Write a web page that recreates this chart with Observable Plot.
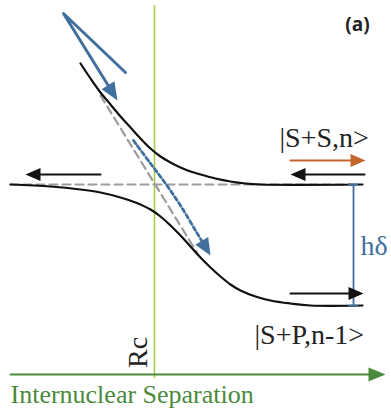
<!DOCTYPE html>
<html><head><meta charset="utf-8">
<script src="https://cdn.jsdelivr.net/npm/d3@7"></script>
<script src="https://cdn.jsdelivr.net/npm/@observablehq/plot@0.6"></script>
<style>body{margin:0;background:#fff}#chart svg{display:block}</style>
</head><body><div id="chart"></div>
<script>
// ---- data (R = internuclear separation, E = energy, arbitrary units) ----
const upperR = [80, 90, 100, 110, 120, 130, 140, 150, 160, 170, 180, 190, 200, 215, 230, 245, 260, 362];
const upperE = [348, 333, 319, 307, 295, 284, 273, 263, 255, 249, 244, 240, 237, 233, 230, 228, 227, 227];
const lowerR = [10, 50, 80, 100, 120, 135, 150, 160, 170, 180, 190, 200, 210, 220, 230, 240, 255, 270, 290, 310, 362];
const lowerE = [227, 225, 222, 219, 214, 209, 202, 195, 186, 176, 165, 154, 144, 135, 127, 121, 115, 111, 108, 106, 106];
const levelSS = 227;            // |S+S,n> asymptote
const levelSP = 106;            // |S+P,n-1> asymptote
const diabSSR = [10, 350];
const diabSPR = [100, 197];
const diabSPE = [316, 158];
const Rc = 154;
const RcE = [34, 406];
const hopR = [133, 150, 165, 180, 195, 210];       // dashed blue transition path
const hopE = [271, 248, 228, 206, 181, 156];
const incomingR = [125, 63, 117];                  // blue incoming arrow
const incomingE = [339, 398, 311];
const leftArrowR = [100, 25];   const leftArrowE = 237;
const ssInR = [364, 290];       const ssInE = 237;
const ssOutR = [290, 365];      const ssOutE = 251;
const spOutR = [290, 363];      const spOutE = 118;
const axisR = [10, 385];        const axisE = 37;
const hdeltaR = 353;
const labels = {panel: "(a)", ss: "|S+S,n>", sp: "|S+P,n-1>", h: "hδ", rc: "Rc", axis: "Internuclear Separation"};

// ---- helpers ----
const zip = (xs, ys) => xs.map((x, i) => ({R: x, E: Array.isArray(ys) ? ys[i] : ys}));
function headSymbol(L, w) {
  return {draw(ctx) { ctx.moveTo(0, 0); ctx.lineTo(-L, -w); ctx.lineTo(-L, w); ctx.closePath(); }};
}
function arrow(pts, {stroke, width = 2, L = 14, w = 6, dash = null, curve = "linear"}) {
  const n = pts.length, a = pts[n - 2], b = pts[n - 1];
  const dx = b.R - a.R, dy = -(b.E - a.E);
  const len = Math.hypot(dx, dy);
  const cut = L * 0.7;
  const shaft = pts.slice(0, n - 1).concat([{R: b.R - dx / len * cut, E: b.E + dy / len * cut}]);
  const ang = Math.atan2(dy, dx) * 180 / Math.PI;
  return [
    Plot.line(shaft, {x: "R", y: "E", stroke, strokeWidth: width, strokeDasharray: dash, curve, strokeLinejoin: "round"}),
    Plot.dot([b], {x: "R", y: "E", symbol: headSymbol(L, w), r: 5, fill: stroke, stroke: "none", rotate: ang})
  ];
}

const BLUE = "#41709e", GREEN = "#4a8a3c", RCGREEN = "#a6cc4e", ORANGE = "#c4662c", GRAY = "#9c9c9c";
const serif = "'Liberation Serif','Times New Roman',serif";

const chart = Plot.plot({
  width: 391, height: 411, margin: 0,
  x: {domain: [0, 391], axis: null},
  y: {domain: [0, 411], axis: null},
  style: {background: "#fff", overflow: "visible"},
  marks: [
    // Rc vertical line
    Plot.line(zip([Rc, Rc], RcE), {x: "R", y: "E", stroke: RCGREEN, strokeWidth: 1.6}),
    // diabatic (dashed gray)
    Plot.line(zip(diabSSR, levelSS), {x: "R", y: "E", stroke: GRAY, strokeWidth: 2.2, strokeDasharray: "8,5"}),
    Plot.line(zip(diabSPR, diabSPE), {x: "R", y: "E", stroke: GRAY, strokeWidth: 2.2, strokeDasharray: "8,5"}),
    // adiabatic curves
    Plot.line(zip(upperR, upperE), {x: "R", y: "E", stroke: "#111", strokeWidth: 2.2, curve: "catmull-rom"}),
    Plot.line(zip(lowerR, lowerE), {x: "R", y: "E", stroke: "#111", strokeWidth: 2.2, curve: "catmull-rom"}),
    // hδ bar
    Plot.line(zip([hdeltaR, hdeltaR], [levelSP, levelSS]), {x: "R", y: "E", stroke: BLUE, strokeWidth: 1.8}),
    Plot.ruleY([levelSP, levelSS], {x1: hdeltaR - 5, x2: hdeltaR + 5, stroke: BLUE, strokeWidth: 1.8}),
    // arrows
    ...arrow(zip(hopR, hopE), {stroke: BLUE, width: 2.8, L: 17, w: 7.5, dash: "4,3", curve: "catmull-rom"}),
    ...arrow(zip(incomingR, incomingE), {stroke: BLUE, width: 3, L: 18, w: 7.5}),
    ...arrow(zip(leftArrowR, leftArrowE), {stroke: "#111", width: 2, L: 15, w: 6.5}),
    ...arrow(zip(ssInR, ssInE), {stroke: "#111", width: 2, L: 15, w: 6.5}),
    ...arrow(zip(ssOutR, ssOutE), {stroke: ORANGE, width: 2, L: 15, w: 6.5}),
    ...arrow(zip(spOutR, spOutE), {stroke: "#111", width: 2, L: 15, w: 6.5}),
    ...arrow(zip(axisR, axisE), {stroke: GREEN, width: 2, L: 17, w: 7}),
    // labels
    Plot.text([{R: 357, E: 387, t: labels.panel}], {x: "R", y: "E", text: "t", fontSize: 19, fontWeight: "bold", fontFamily: "'Open Sans','Liberation Sans',sans-serif", fill: "#222", textAnchor: "middle"}),
    Plot.text([{R: 279, E: levelSS + 38, t: labels.ss}], {x: "R", y: "E", text: "t", fontSize: 28, fontFamily: serif, fill: "#222", textAnchor: "start", lineAnchor: "bottom"}),
    Plot.text([{R: 254, E: levelSP - 38, t: labels.sp}], {x: "R", y: "E", text: "t", fontSize: 28, fontFamily: serif, fill: "#222", textAnchor: "start", lineAnchor: "bottom"}),
    Plot.text([{R: 360, E: (levelSS + levelSP) / 2 - 10, t: labels.h}], {x: "R", y: "E", text: "t", fontSize: 28, fontFamily: serif, fill: BLUE, textAnchor: "start", lineAnchor: "bottom"}),
    Plot.text([{R: 146, E: 59, t: labels.rc}], {x: "R", y: "E", text: "t", fontSize: 28, fontFamily: serif, fill: "#222", textAnchor: "middle", lineAnchor: "bottom", rotate: -90}),
    Plot.text([{R: 10, E: 9, t: labels.axis}], {x: "R", y: "E", text: "t", fontSize: 26, fontFamily: serif, fill: GREEN, textAnchor: "start", lineAnchor: "bottom"})
  ]
});
document.getElementById("chart").appendChild(chart);
</script>
</body></html>
